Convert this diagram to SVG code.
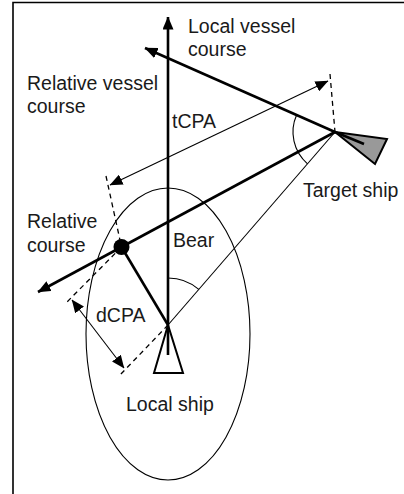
<svg xmlns="http://www.w3.org/2000/svg" width="404" height="494" viewBox="0 0 404 494">
<style>
  text { font-family: "Liberation Sans", Arial, sans-serif; font-size: 19.5px; fill: #1a1a1a; }
  .thick { stroke: #000; stroke-width: 2.6; fill: none; }
  .thin { stroke: #000; stroke-width: 1.1; fill: none; }
  .dash { stroke: #000; stroke-width: 1.3; fill: none; stroke-dasharray: 5 4; }
</style>
<defs>
  <marker id="arrow" markerUnits="userSpaceOnUse" markerWidth="13" markerHeight="11" refX="12.5" refY="5.5" orient="auto-start-reverse">
    <path d="M0,0 L13,5.5 L0,11 z" fill="#000"/>
  </marker>
</defs>
<rect width="404" height="494" fill="#fff"/>
<g id="frame">
  <path d="M13,494 L13,2.5 L404,2.5" fill="none" stroke="#000" stroke-width="1.6"/>
</g>
<g id="region-ellipse">
  <ellipse cx="168" cy="334" rx="82" ry="146" class="thin" stroke-width="1.3"/>
</g>
<g id="connectors">
  <line x1="168" y1="355" x2="168" y2="17" class="thick" marker-end="url(#arrow)"/>
  <line x1="335" y1="132" x2="145" y2="48" class="thick" marker-end="url(#arrow)"/>
  <line x1="335" y1="132" x2="38" y2="292" class="thick" marker-end="url(#arrow)"/>
  <line x1="121.5" y1="247" x2="168" y2="325" class="thick"/>
  <line x1="335" y1="132" x2="168" y2="325" class="thin"/>
  <line x1="328" y1="81" x2="110" y2="185" class="thin" marker-start="url(#arrow)" marker-end="url(#arrow)"/>
  <line x1="72" y1="300" x2="124" y2="368" class="thin" marker-start="url(#arrow)" marker-end="url(#arrow)"/>
  <line x1="330" y1="74" x2="335" y2="132" class="dash"/>
  <line x1="106" y1="176" x2="121.5" y2="247" class="dash"/>
  <line x1="121.5" y1="247" x2="65" y2="304" class="dash"/>
  <line x1="168" y1="325" x2="120" y2="375" class="dash"/>
  <path d="M296.6,115 A42,42 0 0 0 307.5,163.8" class="thin"/>
  <path d="M168,278 A47,47 0 0 1 198.8,289.4" class="thin"/>
</g>
<g id="local-ship">
  <polygon points="168,325 154,373 183,373" fill="none" stroke="#000" stroke-width="2"/>
</g>
<g id="target-ship">
  <polygon points="335,132 387,139 375,164" fill="#999" stroke="#000" stroke-width="2" stroke-linejoin="miter"/>
  <line x1="335" y1="132" x2="364" y2="144" class="thick"/>
</g>
<g id="cpa-point">
  <circle cx="121.5" cy="247" r="8" fill="#000"/>
</g>
<g id="labels">
  <text x="188" y="33">Local vessel</text>
  <text x="188" y="56">course</text>
  <text x="27" y="90">Relative vessel</text>
  <text x="27" y="113">course</text>
  <text x="172" y="128">tCPA</text>
  <text x="303" y="197">Target ship</text>
  <text x="27" y="228">Relative</text>
  <text x="27" y="252">course</text>
  <text x="173" y="247">Bear</text>
  <text x="96" y="322">dCPA</text>
  <text x="126" y="411">Local ship</text>
</g>
</svg>
